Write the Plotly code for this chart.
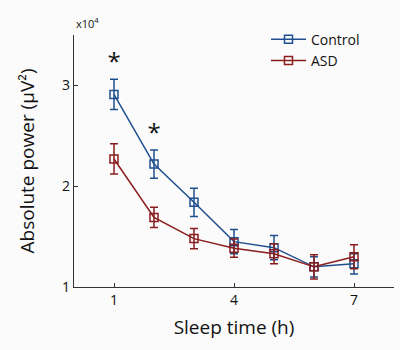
import plotly.graph_objects as go

hours = [1, 2, 3, 4, 5, 6, 7]
control = [2.91, 2.22, 1.84, 1.45, 1.39, 1.20, 1.23]
control_err = [0.15, 0.14, 0.14, 0.12, 0.12, 0.10, 0.10]
asd = [2.27, 1.69, 1.48, 1.385, 1.33, 1.20, 1.30]
asd_err = [0.15, 0.10, 0.10, 0.09, 0.10, 0.12, 0.12]
star_x = [1, 2]
star_y = [3.21, 2.51]
x_ticks = [1, 4, 7]
y_ticks = [1, 2, 3]

blue = "#1f4f8f"
red = "#8a1c1c"
font = "Open Sans"

fig = go.Figure()
for name, vals, errs, col in [("Control", control, control_err, blue), ("ASD", asd, asd_err, red)]:
    fig.add_trace(go.Scatter(
        x=hours, y=vals, name=name, mode="lines+markers",
        line=dict(color=col, width=1.5),
        marker=dict(symbol="square-open", size=8, color=col, line=dict(width=1.5)),
        error_y=dict(type="data", array=errs, color=col, thickness=1.5, width=4),
    ))

fig.add_trace(go.Scatter(
    x=star_x, y=star_y, mode="text", text=["*"] * len(star_x),
    textfont=dict(size=24, color="#111", family=font), showlegend=False, hoverinfo="skip",
))

fig.update_layout(
    width=400, height=350,
    margin=dict(l=74, r=6, t=35, b=63),
    paper_bgcolor="#fbfbfb", plot_bgcolor="#fbfbfb",
    font=dict(family=font, color="#111"),
    showlegend=True,
    legend=dict(x=0.6, y=1.045, xanchor="left", yanchor="top", bgcolor="rgba(0,0,0,0)",
                font=dict(size=14, family=font), tracegroupgap=0, itemwidth=35),
    xaxis=dict(range=[0, 8], tickvals=x_ticks, ticks="inside", ticklen=4, tickcolor="#333",
               showline=True, linecolor="#333", linewidth=1.2, showgrid=False, zeroline=False,
               tickfont=dict(size=14, family=font),
               title=dict(text="Sleep time (h)", font=dict(size=19, family=font), standoff=12)),
    yaxis=dict(range=[1, 3.5], tickvals=y_ticks, ticks="inside", ticklen=4, tickcolor="#333",
               showline=True, linecolor="#333", linewidth=1.2, showgrid=False, zeroline=False,
               tickfont=dict(size=14, family=font),
               title=dict(text="Absolute power (μV²)", font=dict(size=19, family=font), standoff=22)),
    annotations=[dict(text="x10<sup>4</sup>", xref="paper", yref="paper", x=0.0, y=1.0,
                      xanchor="left", yanchor="bottom", showarrow=False, yshift=2,
                      font=dict(size=11, family=font))],
)

fig.write_html("out.html")
